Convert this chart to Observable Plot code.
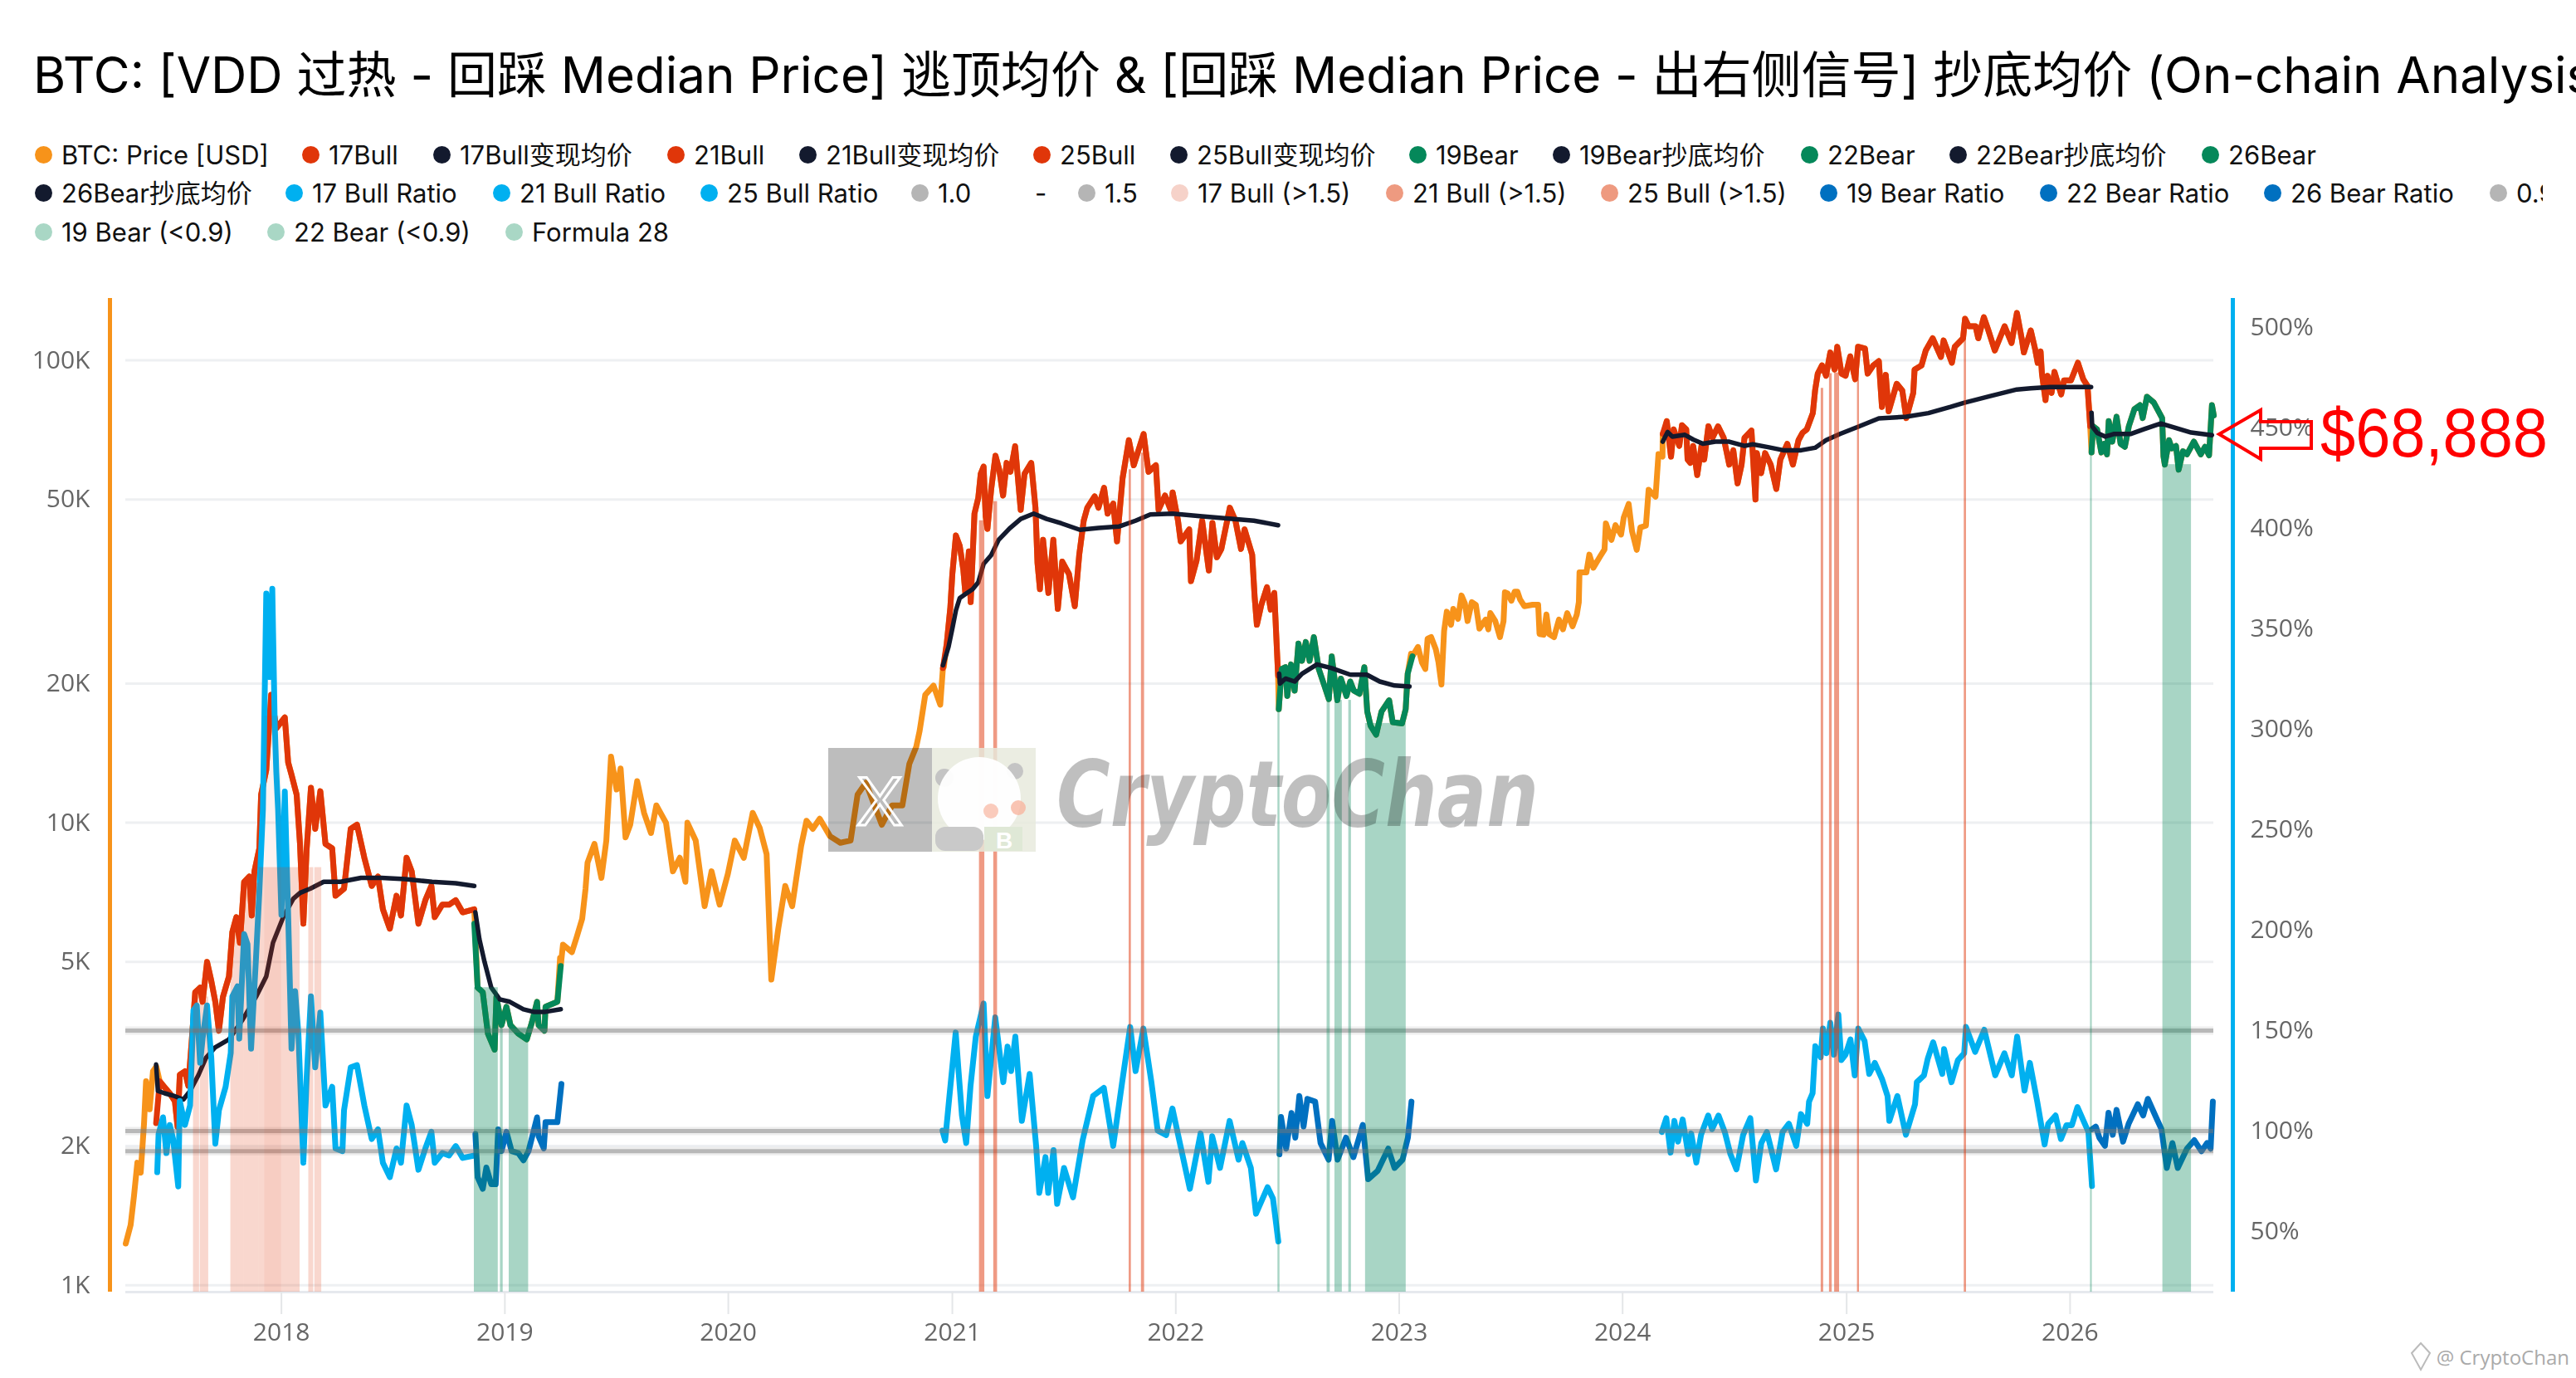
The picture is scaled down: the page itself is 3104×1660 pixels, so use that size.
<!DOCTYPE html>
<html><head><meta charset="utf-8">
<script src="https://cdn.jsdelivr.net/npm/d3@7"></script>
<script src="https://cdn.jsdelivr.net/npm/@observablehq/plot@0.6"></script>
<style>
html,body{margin:0;padding:0;background:#fff;width:3104px;height:1660px;overflow:hidden}
#head{position:relative;width:3104px;height:330px;overflow:hidden;font-family:Inter,"Noto Sans CJK SC",sans-serif;color:#000}
#title{position:absolute;left:40px;top:54px;font-size:60px;line-height:72px;white-space:nowrap}
.lg{position:absolute;display:flex;align-items:center;font-size:31px;line-height:40px;height:40px;white-space:nowrap;color:#111}
.lg i{position:absolute;left:-32px;top:9px;width:21px;height:21px;border-radius:50%}
#stack{position:absolute;left:0;top:330px;width:3104px;height:1330px}
#stack svg{position:absolute;left:0;top:0;background:transparent;filter:blur(.6px)}
#over{position:absolute;left:0;top:0;pointer-events:none}
</style></head><body>
<div id="head"><div id="title">BTC: [VDD 过热 - 回踩 Median Price] 逃顶均价 &amp; [回踩 Median Price - 出右侧信号] 抄底均价 (On-chain Analysis)</div></div>
<div id="stack"></div>
<svg id="over" width="3104" height="1660" viewBox="0 0 3104 1660">
  <rect x="998" y="901" width="125" height="125" fill="#000" fill-opacity=".26"/>
  <text x="1060" y="994" text-anchor="middle" font-family="Liberation Sans" font-size="84" fill="none" stroke="#fff" stroke-width="3">X</text>
  <rect x="1123" y="901" width="125" height="125" fill="#e6e9dc" fill-opacity=".82"/>
  <circle cx="1138" cy="937" r="11" fill="#c4c4c4"/><circle cx="1223" cy="929" r="10" fill="#c4c4c4"/>
  <ellipse cx="1180" cy="962" rx="50" ry="50" fill="#fff" fill-opacity=".95"/>
  <rect x="1127" y="996" width="58" height="29" rx="12" fill="#c9c9c9"/>
  <rect x="1186" y="996" width="46" height="29" fill="#dfe8d6"/>
  <text x="1210" y="1022" text-anchor="middle" font-family="Liberation Sans" font-size="28" font-weight="700" fill="#fff">B</text>
  <circle cx="1194" cy="977" r="9" fill="#f8b5a0" fill-opacity=".7"/><circle cx="1227" cy="973" r="9" fill="#f8b5a0" fill-opacity=".8"/>
  <text x="1273" y="995" font-family="DejaVu Sans" font-style="italic" font-weight="700" font-size="110" textLength="581" lengthAdjust="spacingAndGlyphs" fill="#000" fill-opacity=".25">CryptoChan</text>
  <path d="M2674 523 L2724 494 L2724 508 L2785 508 L2785 540 L2724 540 L2724 553 Z" fill="none" stroke="#ff0000" stroke-width="4"/>
  <text x="2796" y="550" font-family="Liberation Sans" font-size="84" textLength="274" lengthAdjust="spacingAndGlyphs" fill="#ff0000">$68,888</text>
  <path d="M2906 1630 L2917 1618 L2928 1630 L2917 1650 Z" fill="none" stroke="#bbb" stroke-width="2"/>
  <text x="3096" y="1644" text-anchor="end" font-family="Open Sans" font-size="24" fill="#aaa">@ CryptoChan</text>
</svg>
<script>
// ---------- legend ----------
const legendRow1 = ["BTC: Price [USD]","17Bull","17Bull变现均价","21Bull","21Bull变现均价","25Bull","25Bull变现均价","19Bear","19Bear抄底均价","22Bear","22Bear抄底均价","26Bear"];
const legendRow1Colors = ["#f7931a","#e03609","#131a2e","#e03609","#131a2e","#e03609","#131a2e","#05885a","#131a2e","#05885a","#131a2e","#05885a"];
const legendRow2 = ["26Bear抄底均价","17 Bull Ratio","21 Bull Ratio","25 Bull Ratio","1.0","-","1.5","17 Bull (>1.5)","21 Bull (>1.5)","25 Bull (>1.5)","19 Bear Ratio","22 Bear Ratio","26 Bear Ratio","0.9"];
const legendRow2Colors = ["#131a2e","#00b0f0","#00b0f0","#00b0f0","#b5b5b5",null,"#b5b5b5","#f6d2c9","#ee9a80","#ee9a80","#0070c0","#0070c0","#0070c0","#b5b5b5"];
const legendRow3 = ["19 Bear (<0.9)","22 Bear (<0.9)","Formula 28"];
const legendRow3Colors = ["#a9d7c5","#a9d7c5","#a9d7c5"];

// ---------- price series: [decimal year, thousand USD] ----------
const btcStart = [[2017.303,1.23],[2017.325,1.35],[2017.34,1.56],[2017.355,1.84],[2017.37,1.75],[2017.385,2.24],[2017.394,2.76],[2017.41,2.4],[2017.425,2.9],[2017.44,2.97]];
const bull17 = [[2017.439,2.24],[2017.455,2.76],[2017.477,2.68],[2017.5,2.6],[2017.523,2.5],[2017.535,2.2],[2017.545,2.85],[2017.568,2.9],[2017.583,2.7],[2017.598,3.35],[2017.614,4.3],[2017.636,4.4],[2017.647,4.1],[2017.667,5],[2017.686,4.55],[2017.704,4.1],[2017.72,3.55],[2017.738,4.2],[2017.765,4.65],[2017.78,5.8],[2017.798,6.25],[2017.814,5.5],[2017.833,7.45],[2017.856,7.65],[2017.867,6.3],[2017.879,7.85],[2017.901,8.8],[2017.909,11.5],[2017.932,13],[2017.954,18.9],[2017.977,16],[2018.015,16.9],[2018.03,13.5],[2018.045,12.7],[2018.068,11.5],[2018.083,9],[2018.098,6.05],[2018.113,8.8],[2018.132,11.9],[2018.151,9.7],[2018.174,11.7],[2018.197,9],[2018.227,8.8],[2018.242,6.95],[2018.28,7.2],[2018.31,9.7],[2018.338,9.9],[2018.371,8.4],[2018.404,7.3],[2018.432,7.65],[2018.454,6.5],[2018.485,5.9],[2018.515,6.95],[2018.535,6.3],[2018.56,8.4],[2018.583,7.85],[2018.613,6.05],[2018.644,6.8],[2018.671,7.3],[2018.686,6.25],[2018.72,6.65],[2018.75,6.65],[2018.78,6.8],[2018.811,6.4],[2018.863,6.5]];
const bear19 = [[2018.863,6.05],[2018.878,4.4],[2018.901,4.3],[2018.924,3.5],[2018.954,3.23],[2018.962,4.2],[2018.985,3.65],[2019.007,4],[2019.025,3.65],[2019.06,3.5],[2019.098,3.4],[2019.121,3.7],[2019.144,4.1],[2019.151,3.65],[2019.177,3.55],[2019.182,4],[2019.235,4.1],[2019.25,4.9]];
const btcMid = [[2019.247,5.1],[2019.26,5.45],[2019.3,5.25],[2019.321,5.65],[2019.346,6.2],[2019.361,7.2],[2019.37,8.2],[2019.401,9],[2019.432,7.6],[2019.454,9.15],[2019.475,13.9],[2019.5,11.8],[2019.518,13.1],[2019.54,9.3],[2019.561,9.9],[2019.592,12.3],[2019.623,10.5],[2019.654,9.5],[2019.678,10.9],[2019.721,10],[2019.752,7.85],[2019.783,8.4],[2019.808,7.45],[2019.817,10],[2019.854,9.15],[2019.894,6.6],[2019.925,7.85],[2019.961,6.65],[2019.998,7.75],[2020.029,9.15],[2020.069,8.4],[2020.109,10.5],[2020.14,9.75],[2020.171,8.55],[2020.192,4.58],[2020.223,5.9],[2020.254,7.3],[2020.285,6.6],[2020.325,8.9],[2020.349,10.1],[2020.377,9.7],[2020.408,10.2],[2020.454,9.35],[2020.5,9.05],[2020.546,9.15],[2020.577,11.5],[2020.614,12.2],[2020.685,9.9],[2020.731,10.9],[2020.777,10.9],[2020.808,13.4],[2020.839,14.6],[2020.854,15.8],[2020.879,18.9],[2020.916,19.8],[2020.946,18],[2020.962,21.7]];
const bull21 = [[2020.958,21.6],[2020.975,24.4],[2020.991,29.2],[2021,34.5],[2021.016,41.8],[2021.033,39.7],[2021.049,35.3],[2021.058,31.4],[2021.074,38.6],[2021.082,30],[2021.099,46.6],[2021.116,50.4],[2021.127,56.8],[2021.14,58.9],[2021.149,46],[2021.157,43.2],[2021.174,52.7],[2021.193,62.2],[2021.21,58],[2021.227,51],[2021.243,60],[2021.26,57.4],[2021.281,65.2],[2021.306,47.5],[2021.323,56.8],[2021.353,60],[2021.372,48],[2021.381,36.5],[2021.392,32],[2021.406,40.9],[2021.43,31.4],[2021.452,40.9],[2021.472,29],[2021.492,36.7],[2021.522,34.5],[2021.548,29.4],[2021.568,38],[2021.588,45],[2021.604,48],[2021.637,50.8],[2021.654,48],[2021.679,53],[2021.695,46.6],[2021.72,49],[2021.737,40.6],[2021.762,55.6],[2021.79,67.2],[2021.812,59.3],[2021.856,69.3],[2021.878,57.4],[2021.911,59.3],[2021.923,47.5],[2021.952,51],[2021.977,47.5],[2021.986,51.8],[2022.01,45],[2022.022,40.6],[2022.06,43.1],[2022.068,33.3],[2022.093,36.9],[2022.118,45],[2022.148,35.1],[2022.164,44.5],[2022.184,37.5],[2022.204,39.1],[2022.242,48],[2022.267,45],[2022.292,39.1],[2022.308,43.1],[2022.342,38],[2022.353,30.8],[2022.363,26.8],[2022.383,29.6],[2022.408,32.3],[2022.425,28.9],[2022.441,31.4],[2022.458,20.8]];
const bear22 = [[2022.461,17.6],[2022.474,21.5],[2022.491,21.7],[2022.499,18.8],[2022.516,22],[2022.532,19.3],[2022.549,24.4],[2022.565,22.4],[2022.582,24.6],[2022.599,22.4],[2022.618,25.2],[2022.64,21.5],[2022.665,19.8],[2022.685,18.5],[2022.698,22.9],[2022.723,18.4],[2022.739,20.5],[2022.764,18.8],[2022.781,20.2],[2022.797,19.3],[2022.822,19],[2022.844,21.7],[2022.857,17.4],[2022.872,16.2],[2022.897,15.5],[2022.921,17.4],[2022.955,18.4],[2022.971,16.5],[2023.013,16.4],[2023.029,17.6],[2023.038,21],[2023.059,22.9]];
const btcLate = [[2023.053,23.2],[2023.084,24],[2023.102,22.2],[2023.117,21.5],[2023.127,25],[2023.143,25.2],[2023.164,23.7],[2023.176,22.2],[2023.189,19.9],[2023.201,26],[2023.213,28.6],[2023.232,26.8],[2023.242,29],[2023.263,27.6],[2023.279,31],[2023.294,29.8],[2023.306,27.3],[2023.325,30],[2023.343,29.6],[2023.359,26.3],[2023.387,27.5],[2023.399,26.2],[2023.408,28.4],[2023.43,27.3],[2023.451,25.2],[2023.467,27.3],[2023.473,31.5],[2023.486,31.3],[2023.502,30.2],[2023.517,31.6],[2023.529,31.6],[2023.541,30.4],[2023.56,29.4],[2023.597,29.6],[2023.622,29.6],[2023.628,25.6],[2023.646,25.5],[2023.659,28.2],[2023.671,25.6],[2023.693,25.2],[2023.715,27.5],[2023.733,26.2],[2023.752,28.4],[2023.776,26.6],[2023.795,28.2],[2023.804,30],[2023.807,34.8],[2023.838,34.8],[2023.851,38],[2023.869,35.6],[2023.9,37.7],[2023.919,39],[2023.925,44.4],[2023.95,40.9],[2023.968,44],[2023.993,42],[2024.005,45.7],[2024.027,48.9],[2024.042,42.7],[2024.063,38.9],[2024.079,43.5],[2024.104,43.9],[2024.116,52.5],[2024.147,50.7],[2024.16,62.7],[2024.178,61.9],[2024.185,69.3]];
const bull25 = [[2024.179,69.3],[2024.197,73.9],[2024.216,61.9],[2024.228,70.9],[2024.253,65.3],[2024.265,72.4],[2024.284,70.9],[2024.29,61],[2024.302,60],[2024.315,65.3],[2024.333,56.5],[2024.352,65.3],[2024.364,61],[2024.383,72],[2024.401,68],[2024.426,72],[2024.451,68],[2024.476,59.5],[2024.494,63.9],[2024.513,54.2],[2024.531,59.5],[2024.544,68],[2024.575,70.5],[2024.593,50],[2024.599,63],[2024.618,57],[2024.636,63],[2024.661,59.5],[2024.686,52.7],[2024.704,61],[2024.735,66],[2024.76,59.5],[2024.785,67.2],[2024.803,69.7],[2024.822,70.9],[2024.849,76.9],[2024.859,86],[2024.871,93.6],[2024.89,97.5],[2024.908,92.6],[2024.927,104],[2024.946,95.5],[2024.958,107],[2024.977,93.6],[2024.995,92.6],[2025.016,102],[2025.038,91],[2025.051,107],[2025.082,106],[2025.094,93.6],[2025.119,97.5],[2025.144,99.6],[2025.158,79.3],[2025.175,93],[2025.188,77.6],[2025.224,89],[2025.249,86],[2025.267,75],[2025.298,85],[2025.304,95.5],[2025.335,97.5],[2025.354,105],[2025.385,111.6],[2025.422,101.7],[2025.434,110.4],[2025.471,98.8],[2025.484,107],[2025.521,111.6],[2025.53,123],[2025.546,118.5],[2025.577,118.5],[2025.589,111.6],[2025.614,124],[2025.633,116.6],[2025.663,105],[2025.707,118.5],[2025.738,109],[2025.762,126.6],[2025.785,110.4],[2025.793,104],[2025.824,116],[2025.843,106],[2025.855,98.8],[2025.868,104.5],[2025.874,93.6],[2025.89,82],[2025.899,92.6],[2025.917,85],[2025.93,94.4],[2025.96,84.4],[2025.973,90.5],[2026.004,90.5],[2026.035,98.8],[2026.059,91],[2026.078,88],[2026.09,72]];
const bear26 = [[2026.096,63.2],[2026.103,72],[2026.121,70.9],[2026.14,63.2],[2026.152,66],[2026.165,62.6],[2026.173,73.9],[2026.189,66.7],[2026.208,75.5],[2026.226,66],[2026.245,65],[2026.263,72],[2026.288,78.4],[2026.313,80],[2026.325,75],[2026.344,83.4],[2026.375,81],[2026.412,75],[2026.418,62],[2026.424,59.5],[2026.443,67.2],[2026.455,64.5],[2026.474,65.3],[2026.486,58],[2026.505,63.6],[2026.523,62.6],[2026.554,66.7],[2026.585,62.6],[2026.604,65],[2026.622,62.3],[2026.635,80],[2026.643,76]];

// ---------- realised / cost-basis averages: [decimal year, thousand USD] ----------
const avg17 = [[2017.439,3],[2017.447,2.63],[2017.477,2.6],[2017.515,2.57],[2017.561,2.52],[2017.591,2.63],[2017.629,2.85],[2017.662,3.1],[2017.704,3.27],[2017.765,3.4],[2017.826,3.75],[2017.886,4.2],[2017.932,4.65],[2017.962,5.5],[2018.008,6.25],[2018.053,6.85],[2018.083,7.05],[2018.129,7.2],[2018.189,7.45],[2018.265,7.45],[2018.356,7.6],[2018.447,7.6],[2018.553,7.55],[2018.674,7.45],[2018.78,7.4],[2018.863,7.3]];
const avg19 = [[2018.868,6.4],[2018.886,5.6],[2018.909,5],[2018.939,4.4],[2018.977,4.15],[2019.022,4.1],[2019.083,3.95],[2019.128,3.9],[2019.181,3.9],[2019.25,3.95]];
const avg21 = [[2020.958,21.9],[2020.983,24],[2021,26.3],[2021.016,28.8],[2021.033,30.6],[2021.058,31.2],[2021.091,32],[2021.116,33.1],[2021.14,36.3],[2021.174,37.9],[2021.207,40.9],[2021.256,43.3],[2021.306,45.4],[2021.364,46.6],[2021.422,45.4],[2021.488,44.4],[2021.571,43],[2021.654,43.4],[2021.745,43.7],[2021.82,45],[2021.886,46.4],[2021.986,46.6],[2022.118,46],[2022.25,45.4],[2022.35,45],[2022.458,44]];
const avg22 = [[2022.463,21],[2022.466,20],[2022.491,20.5],[2022.532,20.2],[2022.565,21],[2022.632,22],[2022.698,21.6],[2022.781,20.9],[2022.855,20.9],[2022.913,20.2],[2022.979,19.8],[2023.046,19.7]];
const avg25 = [[2024.179,66.7],[2024.201,70],[2024.222,68.4],[2024.278,69],[2024.315,67.4],[2024.358,66],[2024.414,66.7],[2024.476,66.7],[2024.544,65.3],[2024.581,65.8],[2024.649,64.9],[2024.717,63.9],[2024.797,63.9],[2024.859,64.7],[2024.908,67.2],[2024.97,69.3],[2025.057,72],[2025.144,74.9],[2025.267,75.5],[2025.366,76.9],[2025.465,79.3],[2025.527,81],[2025.639,83.6],[2025.762,86.5],[2025.824,87],[2025.911,87.5],[2026.01,87.5],[2026.094,87.5]];
const avg26 = [[2026.096,77],[2026.099,72],[2026.121,69.7],[2026.158,68.4],[2026.195,69.3],[2026.27,69.3],[2026.332,71],[2026.406,73],[2026.468,71.5],[2026.542,69.8],[2026.635,68.9]];

// ---------- ratio series: [decimal year, percent] ----------
const ratio17 = [[2017.444,79.5],[2017.45,98.5],[2017.47,106.8],[2017.485,89],[2017.5,103],[2017.515,96],[2017.538,72.4],[2017.545,115],[2017.568,103],[2017.591,112.7],[2017.606,160],[2017.621,162.5],[2017.636,134],[2017.647,146],[2017.667,162.5],[2017.686,136.4],[2017.704,93.7],[2017.72,110.3],[2017.75,122],[2017.773,138.8],[2017.78,167],[2017.803,172],[2017.811,146],[2017.833,198],[2017.848,193],[2017.864,141],[2017.886,186],[2017.901,219],[2017.917,260],[2017.932,367.6],[2017.947,326],[2017.959,370],[2017.97,302],[2017.977,278.7],[2017.985,260],[2018,207.6],[2018.015,269],[2018.03,207.6],[2018.045,141],[2018.061,169.6],[2018.076,148],[2018.098,84.2],[2018.113,127],[2018.132,167],[2018.151,131.7],[2018.174,159],[2018.197,112.7],[2018.227,122],[2018.242,91.3],[2018.273,90],[2018.28,110.3],[2018.31,131.7],[2018.338,132.8],[2018.371,112.7],[2018.404,96],[2018.432,100.8],[2018.454,84.2],[2018.485,77],[2018.515,91.3],[2018.535,84.2],[2018.56,112.7],[2018.583,103],[2018.613,80.7],[2018.644,91.3],[2018.671,99.6],[2018.686,84.2],[2018.72,89],[2018.75,87.8],[2018.78,92.5],[2018.811,86.6],[2018.863,87.8]];
const ratio19 = [[2018.868,98.5],[2018.878,77],[2018.901,71.2],[2018.917,81.8],[2018.939,73.5],[2018.959,73.5],[2018.97,100.8],[2018.985,90],[2019.007,99.6],[2019.03,90],[2019.06,89],[2019.083,85.4],[2019.106,90],[2019.144,106.8],[2019.151,97.3],[2019.174,91.3],[2019.182,104.4],[2019.235,104.4],[2019.253,123.4]];
const ratio21 = [[2020.956,100.2],[2020.968,95.3],[2020.987,117.4],[2021.015,149],[2021.027,131],[2021.043,107.7],[2021.062,94],[2021.081,122],[2021.105,147],[2021.14,163.5],[2021.157,117.4],[2021.192,156.6],[2021.228,124.3],[2021.247,142],[2021.263,129.8],[2021.282,147],[2021.311,105],[2021.346,128.4],[2021.375,92.6],[2021.389,69.2],[2021.417,87],[2021.429,69.2],[2021.453,90.5],[2021.469,63.7],[2021.5,81.6],[2021.54,67],[2021.583,95.3],[2021.63,117.4],[2021.678,121.5],[2021.72,92.6],[2021.76,124.3],[2021.796,151.8],[2021.82,129.8],[2021.855,151],[2021.891,124.3],[2021.919,100.2],[2021.957,98],[2021.985,111.2],[2022.021,92.6],[2022.063,71.2],[2022.111,98.8],[2022.146,74.7],[2022.163,97.4],[2022.198,81.6],[2022.241,105],[2022.281,85.7],[2022.298,94],[2022.336,81.6],[2022.359,58.8],[2022.411,72],[2022.435,66.4],[2022.459,45]];
const ratio22 = [[2022.464,88.4],[2022.471,107],[2022.494,91.2],[2022.518,109],[2022.535,96.7],[2022.553,117.4],[2022.572,102.2],[2022.589,116],[2022.624,114.6],[2022.648,94],[2022.684,85.7],[2022.7,105],[2022.724,85.7],[2022.762,96.7],[2022.795,87],[2022.837,103],[2022.861,76],[2022.904,80.2],[2022.951,91.2],[2022.979,81.6],[2023.015,85.7],[2023.039,96.7],[2023.055,114.6]];
const ratio25 = [[2024.175,99.5],[2024.195,106.4],[2024.214,89.2],[2024.231,105],[2024.247,94.7],[2024.268,105.7],[2024.293,88.5],[2024.306,98.8],[2024.329,84.3],[2024.35,98.1],[2024.382,107.7],[2024.399,100.9],[2024.428,107.7],[2024.456,99.5],[2024.481,88.5],[2024.508,80.9],[2024.538,98.1],[2024.57,106.4],[2024.595,75.4],[2024.619,94],[2024.644,99.5],[2024.685,80.9],[2024.714,99.5],[2024.742,103.6],[2024.775,92.6],[2024.796,108.4],[2024.824,103.6],[2024.832,114.6],[2024.848,118.8],[2024.86,142.2],[2024.884,136.7],[2024.894,151],[2024.91,138.7],[2024.927,153.9],[2024.943,138],[2024.963,158],[2024.976,135.3],[2024.995,138],[2025.017,145.6],[2025.036,127.7],[2025.052,151],[2025.08,144.9],[2025.101,128.4],[2025.126,133.9],[2025.159,125.7],[2025.183,117.4],[2025.191,105],[2025.227,117.4],[2025.265,98.1],[2025.306,113.3],[2025.314,124.3],[2025.346,127.7],[2025.363,136],[2025.387,144.2],[2025.428,128.4],[2025.436,140.8],[2025.469,124.3],[2025.498,135.3],[2025.526,138.7],[2025.534,151.8],[2025.575,139.4],[2025.616,150.4],[2025.665,127.7],[2025.706,138.7],[2025.739,127.7],[2025.763,147],[2025.796,120.1],[2025.82,133.9],[2025.853,114.6],[2025.886,93.3],[2025.902,103.6],[2025.935,107.7],[2025.959,96],[2025.984,102.9],[2026.008,102.9],[2026.033,111.9],[2026.082,99.5],[2026.098,72.6]];
const ratio26 = [[2026.098,100.9],[2026.115,102.2],[2026.131,96.7],[2026.156,92.6],[2026.172,109.1],[2026.191,98.1],[2026.208,110.5],[2026.237,94.7],[2026.262,103.6],[2026.303,113.3],[2026.327,107.7],[2026.348,116],[2026.384,107],[2026.409,100.9],[2026.433,81.6],[2026.458,94],[2026.482,81.6],[2026.523,91.2],[2026.556,95.4],[2026.588,89.9],[2026.613,94],[2026.629,91.2],[2026.639,114.6]];
const ratioLevels = [90,100,150];

// ---------- shaded windows: [start, end, price top in thousand USD] ----------
const band17 = [[2017.606,2017.633,4.2],[2017.636,2017.674,4.2],[2017.773,2017.8,5.8],[2017.8,2017.833,6],[2017.833,2017.9,7.4],[2017.9,2018.083,8],[2018.122,2018.144,8],[2018.149,2018.18,8]];
const band17Pale = [[2017.925,2018.0,17]];
const band21 = [[2021.121,2021.145,45],[2021.185,2021.202,49.5],[2021.791,2021.801,58],[2021.846,2021.86,63]];
const band25 = [[2024.886,2024.897,87],[2024.923,2024.935,93.6],[2024.946,2024.968,94],[2025.048,2025.057,99],[2025.526,2025.536,115]];
const band19 = [[2018.863,2018.97,4.4],[2018.98,2018.992,3.6],[2019.019,2019.106,3.6]];
const band22 = [[2022.457,2022.466,17.6],[2022.677,2022.691,18.4],[2022.712,2022.745,18.4],[2022.774,2022.786,18.4],[2022.849,2023.031,16.4]];
const band26 = [[2026.091,2026.099,62.6],[2026.415,2026.543,59.5]];

// ---------- axis ticks ----------
const priceTicks = [1,2,5,10,20,50,100];
const ratioTicks = [50,100,150,200,250,300,350,400,450,500];
const yearTicks = [2018,2019,2020,2021,2022,2023,2024,2025,2026];
const xDomain = [2017.303,2026.643];
const priceDomain = [0.966,136.1];
const ratioDomain = [19.8,514.5];

// ---------- helpers ----------
function toDate(t){
  const y = Math.floor(t), a = Date.UTC(y,0,1), b = Date.UTC(y+1,0,1);
  return new Date(a + (t-y)*(b-a));
}
const X = d => toDate(d[0]), Y = d => d[1];
const colors = {btc:"#f7931a",bull:"#e03609",bear:"#05885a",avg:"#131a2e",rBull:"#00b0f0",rBear:"#0070c0"};
const frame = {width:3104,height:1330,marginLeft:151,marginRight:437,marginTop:29,marginBottom:104,
  style:{background:"transparent",overflow:"visible"},
  x:{type:"utc",domain:xDomain.map(toDate),axis:null}};
const line = (data,stroke,w) => Plot.line(data,{x:X,y:Y,stroke,strokeWidth:w,strokeLinejoin:"round",strokeLinecap:"round"});
const bandMark = (data,fill,op) => Plot.rect(data,{x1:d=>toDate(d[0]),x2:d=>toDate(d[1]),y1:()=>priceDomain[0],y2:d=>d[2],fill,fillOpacity:op});
const W = 7, WA = 5.5;

// layer 1: price axis, price lines, averages
const btcAll = [...btcStart,...bull17.slice(1),...bear19.slice(1),...btcMid,...bull21,...bear22,...btcLate,...bull25,...bear26];
btcAll.sort((a,b)=>a[0]-b[0]);
const lay1 = Plot.plot({...frame,
  y:{type:"log",domain:priceDomain,axis:null},
  marks:[
    Plot.ruleY(priceTicks,{stroke:"#eef0f2",strokeWidth:3}),
    Plot.ruleY([priceDomain[0]],{stroke:"#e6e9ee",strokeWidth:3}),
    Plot.axisY({ticks:priceTicks,tickFormat:d=>d+"K",tickSize:0,tickPadding:43,fontSize:30,fill:"#666",fontFamily:"Open Sans",label:null,anchor:"left"}),
    Plot.axisX({ticks:yearTicks.map(y=>toDate(y)),tickFormat:d=>d3.utcFormat("%Y")(d),tickSize:27,tickPadding:10,fontSize:30,fill:"#666",stroke:"#e4e6e8",strokeWidth:2,fontFamily:"Open Sans",label:null,anchor:"bottom"}),
    line(btcAll,colors.btc,W),
    line(bull17,colors.bull,W),line(bull21,colors.bull,W),line(bull25,colors.bull,W),
    line(bear19,colors.bear,W),line(bear22,colors.bear,W),line(bear26,colors.bear,W),
    line(avg17,colors.avg,WA),line(avg19,colors.avg,WA),line(avg21,colors.avg,WA),line(avg22,colors.avg,WA),line(avg25,colors.avg,WA),line(avg26,colors.avg,WA)
  ]});

// layer 2: ratio axis and ratio lines
const lay2 = Plot.plot({...frame,
  y:{type:"linear",domain:ratioDomain,axis:null},
  marks:[
    Plot.axisY({ticks:ratioTicks,tickFormat:d=>d+"%",tickSize:0,tickPadding:44,fontSize:30,fill:"#666",fontFamily:"Open Sans",label:null,anchor:"right"}),
    line(ratio17,colors.rBull,W),line(ratio21,colors.rBull,W),line(ratio25,colors.rBull,W),
    line(ratio19,colors.rBear,W),line(ratio22,colors.rBear,W),line(ratio26,colors.rBear,W),
    Plot.ruleY(ratioLevels,{stroke:"#777",strokeOpacity:.12,strokeWidth:10}),
    Plot.ruleY(ratioLevels,{stroke:"#777",strokeOpacity:.45,strokeWidth:5})
  ]});

// layer 3: shaded windows on the price scale
const lay3 = Plot.plot({...frame,
  y:{type:"log",domain:priceDomain,axis:null},
  marks:[
    bandMark(band17,colors.bull,.2),bandMark(band17Pale,colors.bull,.06),
    bandMark(band21,colors.bull,.5),bandMark(band25,colors.bull,.5),
    bandMark(band19,colors.bear,.35),bandMark(band22,colors.bear,.35),bandMark(band26,colors.bear,.35)
  ]});

// coloured axis bars drawn through each layer's own frame
const barOrange = Plot.plot({...frame,marginLeft:130,marginRight:3104-135,x:{axis:null,domain:[0,1]},y:{axis:null,domain:[0,1]},
  marks:[Plot.rect([0],{x1:0,x2:1,y1:0,y2:1,fill:colors.btc})]});
const barBlue = Plot.plot({...frame,marginLeft:2688,marginRight:3104-2693,x:{axis:null,domain:[0,1]},y:{axis:null,domain:[0,1]},
  marks:[Plot.rect([0],{x1:0,x2:1,y1:0,y2:1,fill:colors.rBull})]});

const stack = document.getElementById("stack");
[lay1,lay2,lay3,barOrange,barBlue].forEach(s=>stack.appendChild(s));

// legend
const head = document.getElementById("head");
const rows = [
  {names:legendRow1,cols:legendRow1Colors,y:167,x:[74,396,554,836,995,1277,1442,1730,1903,2202,2381,2685]},
  {names:legendRow2,cols:legendRow2Colors,y:213,x:[74,376,626,876,1130,1247,1331,1443,1702,1961,2225,2490,2760,3032]},
  {names:legendRow3,cols:legendRow3Colors,y:260,x:[74,354,641]}
];
rows.forEach(r=>r.names.forEach((n,i)=>{
  const el=document.createElement("div");el.className="lg";el.textContent=n;
  el.style.left=r.x[i]+"px";el.style.top=r.y+"px";
  if(r.cols[i]){const dot=document.createElement("i");dot.style.background=r.cols[i];el.appendChild(dot);}
  if(n==="0.9"){el.style.width="32px";el.style.overflow="visible";el.style.clipPath="inset(0 0 0 -40px)";}
  head.appendChild(el);
}));
</script>
</body></html>
